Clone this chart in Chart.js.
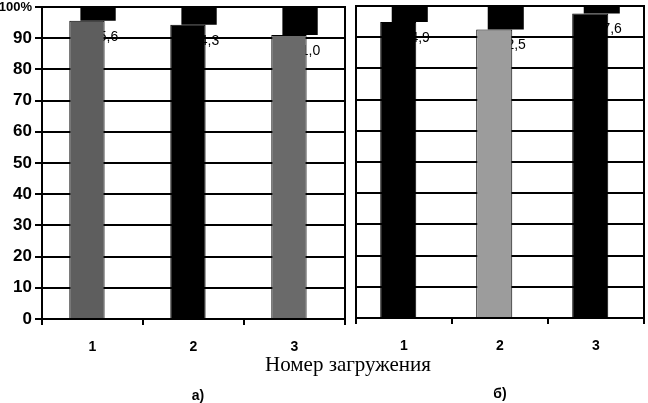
<!DOCTYPE html>
<html><head><meta charset="utf-8">
<script src="https://cdn.jsdelivr.net/npm/chart.js@4/dist/chart.umd.min.js"></script>
<style>
html,body{margin:0;padding:0;background:#fff;width:648px;height:403px;overflow:hidden;position:relative}
#wa{position:absolute;left:0;top:0;width:350px;height:362px}
#wb{position:absolute;left:350px;top:0;width:298px;height:362px}
.t{position:absolute;white-space:nowrap;color:#000;text-align:center}
#xt{left:248px;width:200px;top:354px;font:21px/21px "Liberation Serif","Times New Roman",serif}
#la{left:168px;width:60px;top:388px;font:bold 14px/14px "Liberation Sans",Arial,sans-serif}
#lb{left:470px;width:60px;top:386px;font:bold 14px/14px "Liberation Sans",Arial,sans-serif}
</style></head><body>
<div id="wa"><canvas id="ca"></canvas></div>
<div id="wb"><canvas id="cb"></canvas></div>
<div class="t" id="xt">Номер загружения</div>
<div class="t" id="la">а)</div>
<div class="t" id="lb">б)</div>
<script>
// ---- data ----
const categories = ['1', '2', '3'];
const valuesA = [95.6, 94.3, 91.0];
const valuesB = [94.9, 92.5, 97.6];
const fullScale = 100;
const yStep = 10;

// ---- styles ----
const colorsA = ['#5e5e5e', '#000000', '#6a6a6a'];
const colorsB = ['#000000', '#9c9c9c', '#000000'];
const FONT = '"Liberation Sans", Arial, sans-serif';

const labelPlugin = {
  id: 'vals',
  beforeDatasetsDraw(chart) {
    const ctx = chart.ctx;
    const meta = chart.getDatasetMeta(0);
    const vals = chart.data.datasets[0].data;
    ctx.save();
    ctx.font = '14px ' + FONT;
    ctx.fillStyle = '#000';
    ctx.textAlign = 'center';
    ctx.textBaseline = 'middle';
    meta.data.forEach((bar, i) => {
      const p = bar.getProps(['x', 'y', 'width'], true);
      ctx.fillText(vals[i].toFixed(1).replace('.', ','), p.x + p.width / 2, p.y + 16);
    });
    ctx.restore();
  }
};
const framePlugin = {
  id: 'frame',
  afterDraw(chart) {
    const a = chart.chartArea, ctx = chart.ctx;
    ctx.save();
    ctx.strokeStyle = '#000';
    ctx.lineWidth = 2;
    ctx.beginPath();
    ctx.moveTo(a.right, a.top - 1);
    ctx.lineTo(a.right, a.bottom + 1);
    ctx.stroke();
    ctx.restore();
  }
};

function makeChart(id, values, colors, o) {
  return new Chart(document.getElementById(id), {
    type: 'bar',
    data: {
      labels: categories,
      datasets: [
        { data: values, backgroundColor: colors, borderColor: '#000', borderWidth: 1,
          categoryPercentage: o.cp, barPercentage: o.bp },
        { data: values.map(v => [v, fullScale]), backgroundColor: '#000', borderWidth: 0,
          categoryPercentage: o.cp, barPercentage: o.bp }
      ]
    },
    options: {
      responsive: true, maintainAspectRatio: false, animation: false,
      layout: { padding: { top: o.top, right: o.right, left: 0, bottom: 0 } },
      plugins: { legend: { display: false }, tooltip: { enabled: false } },
      scales: {
        x: {
          grid: { display: true, drawOnChartArea: false, drawTicks: true, tickLength: 6,
                  color: '#000', lineWidth: 2, offset: true },
          border: { display: true, color: '#000', width: 2 },
          ticks: { color: '#000', font: { family: FONT, size: 14, weight: 'bold' }, padding: 14 },
          afterFit(s) { s.height = o.xh; s.paddingLeft = 0; s.paddingRight = 0; }
        },
        y: {
          min: 0, max: fullScale,
          ticks: {
            stepSize: yStep, display: o.yLabels, color: '#000', padding: 3,
            font: (c) => ({ family: FONT, weight: 'bold', size: (c.tick && c.tick.value === fullScale) ? 13 : 17 }),
            callback: (v) => v === fullScale ? v + '%' : v
          },
          grid: { color: '#000', lineWidth: 2, drawTicks: o.yLabels, tickLength: 7 },
          border: { display: true, color: '#000', width: 2 },
          afterFit(s) { s.width = o.yw; s.paddingTop = 0; s.paddingBottom = 0; }
        }
      }
    },
    plugins: [labelPlugin, framePlugin]
  });
}

makeChart('ca', valuesA, colorsA, { cp: 0.22, bp: 3.18, top: 7, right: 5, xh: 43, yw: 42, yLabels: true });
makeChart('cb', valuesB, colorsB, { cp: 0.24, bp: 3.13, top: 6, right: 4, xh: 44, yw: 6, yLabels: false });
</script>
</body></html>
